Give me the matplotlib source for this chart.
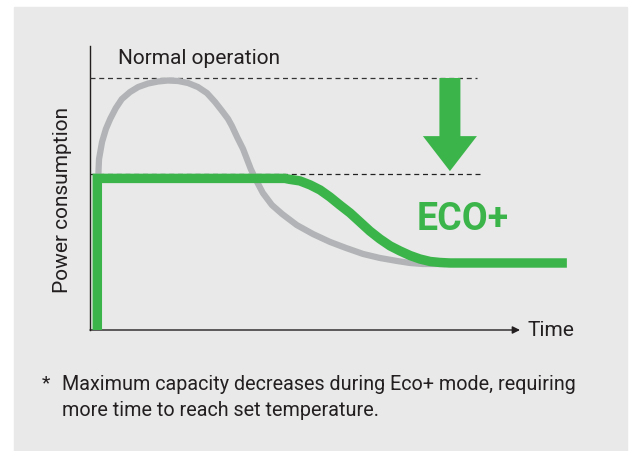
import matplotlib.pyplot as plt
from matplotlib.patches import Rectangle, FancyArrow

plt.rcParams['font.family'] = ['Roboto', 'DejaVu Sans']

# Normal operation curve (time, power in % of normal peak)
normal_t = [0.17, 0.17, 0.19, 0.21, 0.28, 0.37, 0.47, 0.60, 0.74, 0.93, 1.12,
            1.35, 1.58, 1.81, 2.05, 2.28, 2.51, 2.72, 2.91, 3.07, 3.21, 3.30,
            3.42, 3.56, 3.65, 3.74, 3.86, 4.02, 4.23, 4.47, 4.81, 5.19, 5.58,
            5.95, 6.35, 6.74, 7.14, 7.44, 7.74, 8.26]
normal_p = [0, 52.2, 60.2, 68.1, 74.9, 80.1, 84.1, 88.4, 92.0, 94.8, 96.8,
            98.2, 99.0, 99.4, 99.2, 98.4, 96.8, 94.4, 90.8, 87.3, 84.1, 81.3,
            76.9, 72.1, 68.1, 64.1, 59.8, 54.6, 49.8, 46.2, 41.8, 38.2, 35.1,
            32.7, 30.3, 28.7, 27.5, 26.7, 26.3, 26.3]

# Eco+ curve
eco_t = [0.17, 0.17, 4.53, 4.65, 4.88, 5.12, 5.35, 5.58, 5.81, 6.05, 6.28,
         6.51, 6.74, 6.98, 7.21, 7.44, 7.67, 7.91, 8.14, 8.37, 8.60, 11.09]
eco_p = [0, 60.4, 60.4, 60.0, 59.4, 57.8, 55.8, 53.0, 49.8, 46.6, 43.0,
         39.4, 36.3, 33.5, 31.5, 29.7, 28.3, 27.3, 26.9, 26.7, 26.7, 26.7]

normal_level = 100.4
eco_level = 62.2

green = '#3bb54a'
grey = '#b1b3b6'
text_c = '#231f20'
W, H = 634, 452

fig = plt.figure(figsize=(W / 100, H / 100), dpi=100)
fig.patch.set_facecolor('white')
fig.patches.append(Rectangle((14 / W, 0), (627 - 14) / W, (H - 8) / H,
                             transform=fig.transFigure, color='#e8e9e8', zorder=-5))

# axes: px 90..590 horizontally, px 331..47 vertically
ax = fig.add_axes([90 / W, (H - 331) / H, 500 / W, 284 / H])
ax.set_zorder(2)
ax.set_xlim(0, 500 / 43)
ax.set_ylim(0, 284 / 2.51)
ax.axis('off')

# axes lines
ax.plot([0, 0], [0, 284 / 2.51], color=text_c, lw=1.0, clip_on=False)
ax.annotate('', xy=(10.0, 0), xytext=(0, 0),
            arrowprops=dict(arrowstyle='-|>', color=text_c, lw=1.0,
                            mutation_scale=11, shrinkA=0, shrinkB=0))

# dashed reference levels
ax.plot([0, 9.0], [normal_level, normal_level], color='#333333', lw=0.9, ls=(0, (4, 3)))
ax.plot([0, 9.1], [eco_level, eco_level], color='#222222', lw=0.9, ls=(0, (4, 3)))

ax.plot(normal_t, normal_p, color=grey, lw=4.5, solid_joinstyle='round',
        solid_capstyle='butt', zorder=3)
ax.plot(eco_t, eco_p, color=green, lw=6.8, solid_joinstyle='miter',
        solid_capstyle='butt', zorder=4, clip_on=False)

# downward arrow
ax.add_patch(FancyArrow(8.37, normal_level, 0, -(normal_level - 63.3),
                        width=21 / 43, head_width=54 / 43, head_length=35 / 2.51,
                        length_includes_head=True, color=green, lw=0, zorder=5))

ax.text(8.67, 44.6, 'ECO+', color=green, fontsize=27, fontweight='bold',
        ha='center', va='center')

fig.text(118 / W, 1 - 58 / H, 'Normal operation', color=text_c, fontsize=15,
         ha='left', va='center')
fig.text(527 / W, 1 - 331 / H, 'Time', color=text_c, fontsize=15,
         ha='left', va='center')
fig.text(63 / W, 1 - 200 / H, 'Power consumption', color=text_c, fontsize=15,
         rotation=90, ha='center', va='center')

fig.text(42 / W, 1 - 383 / H, '*', color=text_c, fontsize=14, ha='left', va='center')
fig.text(62 / W, 1 - 385 / H, 'Maximum capacity decreases during Eco+ mode, requiring',
         color=text_c, fontsize=14.2, ha='left', va='center')
fig.text(62 / W, 1 - 411 / H, 'more time to reach set temperature.',
         color=text_c, fontsize=14.2, ha='left', va='center')

fig.savefig('out.png', dpi=100)
